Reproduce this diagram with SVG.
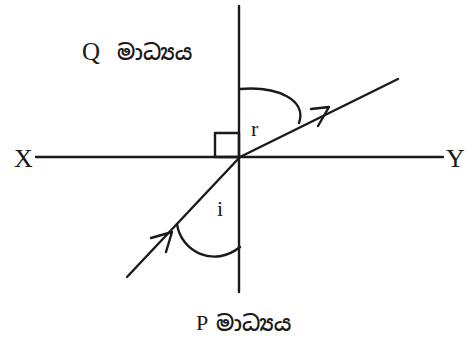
<svg xmlns="http://www.w3.org/2000/svg" width="472" height="338" viewBox="0 0 472 338">
<style>
.ln{stroke:#1a1a1a;stroke-width:2.4;fill:none;stroke-linecap:round;stroke-linejoin:round}
.lt{font-family:"Liberation Serif","DejaVu Serif",serif;fill:#1a1a1a}
.si{font-family:"Noto Sans Sinhala","Noto Serif Sinhala","Iskoola Pota","Noto Sans",sans-serif;fill:#1a1a1a;font-size:21px;font-weight:600}
</style>
<rect width="472" height="338" fill="#fff"/>
<g id="axes">
<line class="ln" x1="239" y1="6" x2="239" y2="292"/>
<line class="ln" x1="36" y1="157" x2="443" y2="157"/>
<rect class="ln" x="215" y="133" width="24" height="24"/>
</g>
<g id="connectors">
<path id="incident" class="ln" d="M127,277 L240,157"/>
<path id="incident-arrow" class="ln" d="M151,238 L172,232 L166,252"/>
<path id="refracted" class="ln" d="M240,157 L398,79"/>
<path id="refracted-arrow" class="ln" d="M311,109 L329,107 L318,126"/>
<path id="arc-r" class="ln" d="M240,89 C278,86 307,100 299,123"/>
<path id="arc-i" class="ln" d="M177,224 C181,252 214,268 240,247"/>
</g>
<g id="label-X"><text class="lt" x="14" y="167" font-size="26">X</text></g>
<g id="label-Y"><text class="lt" x="446" y="167" font-size="26">Y</text></g>
<g id="label-r"><text class="lt" x="251" y="136" font-size="22">r</text></g>
<g id="label-i"><text class="lt" x="217" y="216" font-size="22">i</text></g>
<g id="label-Q"><text class="lt" x="82" y="60" font-size="25">Q</text><text class="si" x="117" y="60">මාධ්‍යය</text></g>
<g id="label-P"><text class="lt" x="196" y="330" font-size="22">P</text><text class="si" x="216" y="331">මාධ්‍යය</text></g>
</svg>
